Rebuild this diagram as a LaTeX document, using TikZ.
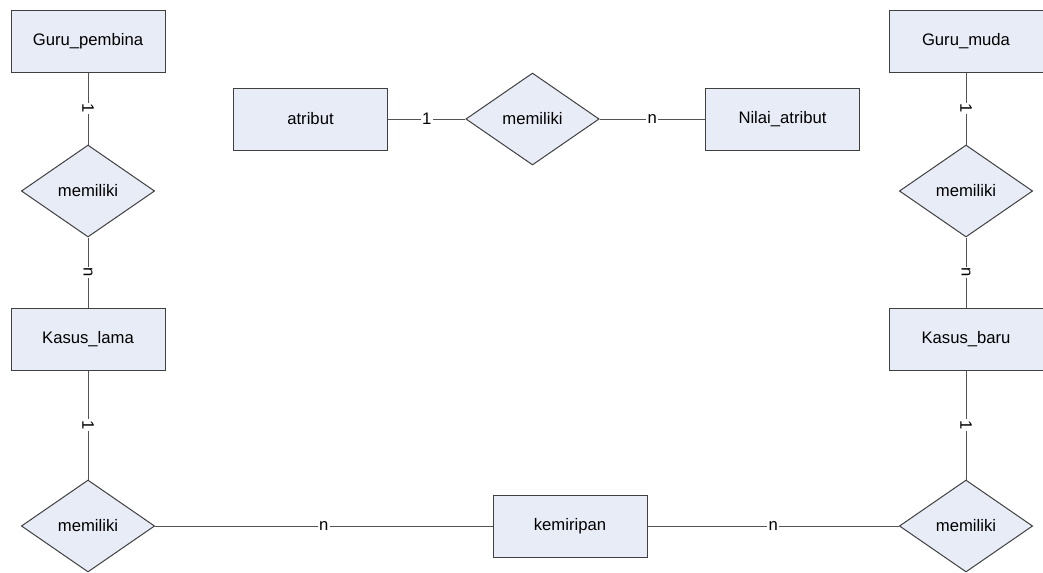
\documentclass[tikz,border=0pt]{standalone}
\usepackage{fontspec}
\setmainfont{Liberation Sans}
\definecolor{erfill}{RGB}{232, 236, 247}
\definecolor{erline}{RGB}{64, 64, 64}
\usetikzlibrary{shapes.geometric, positioning}

\tikzset{
  entitas/.style={draw=erline, fill=erfill, line width=0.75pt, minimum width=115.5pt, minimum height=46.5pt, inner sep=0pt, font=\fontsize{12.5}{15}\selectfont},
  relasi/.style={draw=erline, fill=erfill, line width=0.75pt, diamond, aspect=1.45, minimum width=100pt, minimum height=69pt, inner sep=0pt, font=\fontsize{12.5}{15}\selectfont},
  kard/.style={fill=white, inner sep=1pt, font=\fontsize{12.5}{15}\selectfont},
  garis/.style={draw=erline!90, line width=0.75pt}
}

\begin{document}
\begin{tikzpicture}[x=0.75pt, y=-0.75pt]
  \useasboundingbox (0, 0) rectangle (1043, 572);

  % kolom kiri
  \node[entitas] (gurupembina) at (88, 41) {Guru\_pembina};
  \node[relasi] (relkiri) at (88, 191) {memiliki};
  \node[entitas] (kasuslama) at (88, 339) {Kasus\_lama};
  \node[relasi] (relbawahkiri) at (88, 526) {memiliki};

  % atribut
  \node[entitas] (atribut) at (310.5, 119) {atribut};
  \node[relasi] (relatas) at (532.5, 119) {memiliki};
  \node[entitas] (nilaiatribut) at (782.5, 119) {Nilai\_atribut};

  % kolom kanan
  \node[entitas] (gurumuda) at (966, 41) {Guru\_muda};
  \node[relasi] (relkanan) at (966, 191) {memiliki};
  \node[entitas] (kasusbaru) at (966, 339) {Kasus\_baru};
  \node[relasi] (relbawahkanan) at (966, 526) {memiliki};

  \node[entitas] (kemiripan) at (570, 526) {kemiripan};

  % relasi
  \draw[garis] (gurupembina) -- node[kard, rotate=-90] {1} (relkiri);
  \draw[garis] (relkiri) -- node[kard, rotate=-90] {n} (kasuslama);
  \draw[garis] (kasuslama) -- node[kard, rotate=-90] {1} (relbawahkiri);
  \draw[garis] (relbawahkiri) -- node[kard] {n} (kemiripan);

  \draw[garis] (atribut) -- node[kard] {1} (relatas);
  \draw[garis] (relatas) -- node[kard] {n} (nilaiatribut);

  \draw[garis] (gurumuda) -- node[kard, rotate=-90] {1} (relkanan);
  \draw[garis] (relkanan) -- node[kard, rotate=-90] {n} (kasusbaru);
  \draw[garis] (kasusbaru) -- node[kard, rotate=-90] {1} (relbawahkanan);
  \draw[garis] (kemiripan) -- node[kard] {n} (relbawahkanan);
\end{tikzpicture}
\end{document}
